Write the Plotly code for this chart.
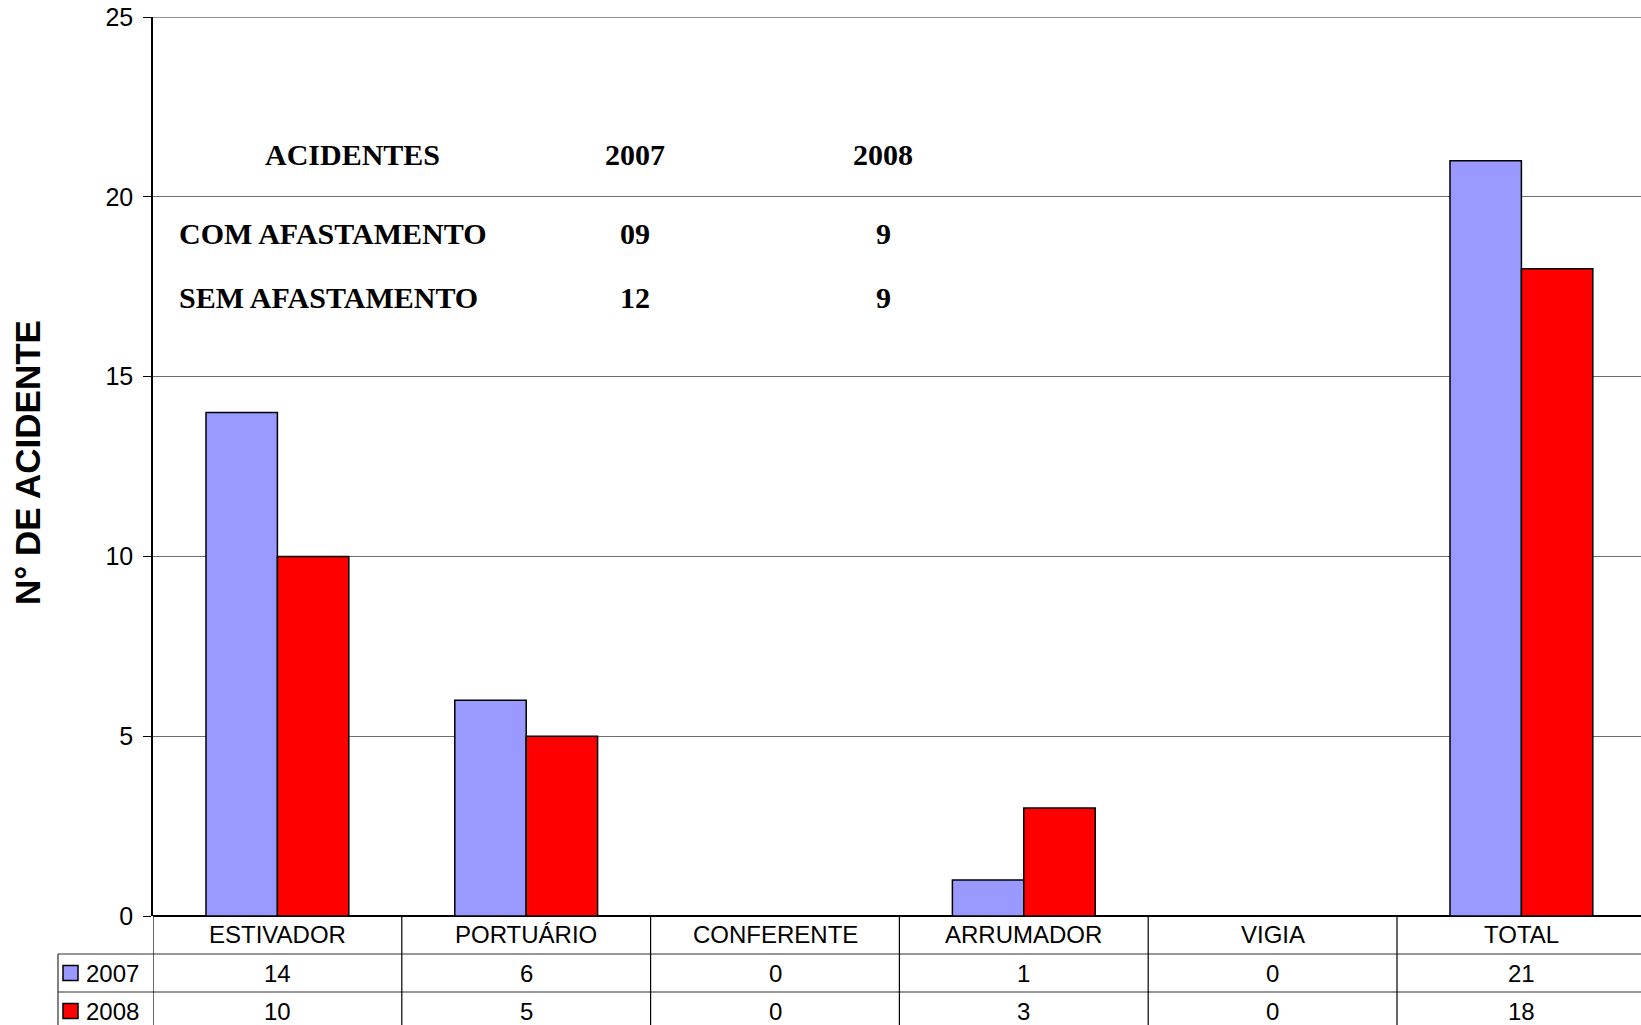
import plotly.graph_objects as go

categories = ["ESTIVADOR", "PORTUÁRIO", "CONFERENTE", "ARRUMADOR", "VIGIA", "TOTAL"]
series_names = ["2007", "2008"]
values_2007 = [14, 6, 0, 1, 0, 21]
values_2008 = [10, 5, 0, 3, 0, 18]
colors = ["#9999FF", "#FF0000"]

y_ticks = [0, 5, 10, 15, 20, 25]
y_title = "N° DE ACIDENTE"

box_header = ["ACIDENTES", "2007", "2008"]
box_rows = ["COM AFASTAMENTO", "SEM AFASTAMENTO"]
box_2007 = ["09", "12"]
box_2008 = ["9", "9"]

W, H = 1641, 1025
L, T = 153, 17
B = H - 916
R = 0
PW, PH = W - L - R, H - T - B
CAT_W = 248.8

def py_(py):
    # screen pixel y -> paper y
    return (H - B - py) / PH

def px_(px):
    # screen pixel x -> paper x
    return (px - L) / PW

fig = go.Figure()
for name, vals, col in zip(series_names, [values_2007, values_2008], colors):
    fig.add_trace(go.Bar(
        x=list(range(len(categories))), y=vals, name=name,
        marker=dict(color=col, line=dict(color="black", width=1.5)),
        showlegend=False,
    ))

xmax = -0.5 + PW / CAT_W

shapes = []
annotations = []
line_col = "#303030"
sans = "Liberation Sans, Arial"

# top gridline (at max of range)
shapes.append(dict(type="line", xref="paper", yref="y", x0=0, x1=1,
                   y0=y_ticks[-1], y1=y_ticks[-1],
                   line=dict(color="#6e6e6e", width=1.5)))

# table horizontal lines
for yl in [py_(954), py_(992)]:
    shapes.append(dict(type="line", xref="paper", yref="paper",
                       x0=px_(58), x1=1.0, y0=yl, y1=yl,
                       line=dict(color=line_col, width=1.2)))
# table vertical lines (category boundaries)
for i in range(len(categories) + 1):
    shapes.append(dict(type="line", xref="x", yref="paper",
                       x0=i - 0.5, x1=i - 0.5, y0=0, y1=py_(1040),
                       line=dict(color="black", width=1.2)))
# legend column left border
shapes.append(dict(type="line", xref="paper", yref="paper",
                   x0=px_(58), x1=px_(58), y0=py_(954), y1=py_(1040),
                   line=dict(color=line_col, width=1.2)))

# category labels
cat_y = py_(935)
for i, c in enumerate(categories):
    annotations.append(dict(x=i, y=cat_y, xref="x", yref="paper", text=c,
                            showarrow=False, xanchor="center", yanchor="middle",
                            font=dict(family=sans, size=24, color="black")))
row_y = [py_(973), py_(1011)]
for ry, name, vals, col in zip(row_y, series_names, [values_2007, values_2008], colors):
    for i, v in enumerate(vals):
        annotations.append(dict(x=i, y=ry, xref="x", yref="paper", text=str(v),
                                showarrow=False, xanchor="center", yanchor="middle",
                                font=dict(family=sans, size=24, color="black")))
    half = 7.5 / PH
    shapes.append(dict(type="rect", xref="paper", yref="paper",
                       x0=px_(63), x1=px_(78), y0=ry - half, y1=ry + half,
                       fillcolor=col, line=dict(color="black", width=1.5)))
    annotations.append(dict(x=px_(84), y=ry, xref="paper", yref="paper",
                            text=name, showarrow=False, xanchor="left", yanchor="middle",
                            font=dict(family=sans, size=24, color="black")))

# text box inside plot
serif = dict(family="Liberation Serif, Times New Roman", size=30, color="black")
hy = py_(154)
annotations.append(dict(x=px_(352), y=hy, xref="paper", yref="paper",
                        text="<b>%s</b>" % box_header[0], showarrow=False,
                        xanchor="center", yanchor="middle", font=serif))
col_x = [px_(635), px_(883)]
for cx, htxt in zip(col_x, box_header[1:]):
    annotations.append(dict(x=cx, y=hy, xref="paper", yref="paper",
                            text="<b>%s</b>" % htxt, showarrow=False,
                            xanchor="center", yanchor="middle", font=serif))
for ry_px, lbl, a, b in zip([233, 297], box_rows, box_2007, box_2008):
    ry = py_(ry_px)
    annotations.append(dict(x=px_(177), y=ry, xref="paper", yref="paper",
                            text="<b>%s</b>" % lbl, showarrow=False,
                            xanchor="left", yanchor="middle", font=serif))
    for cx, t in zip(col_x, [a, b]):
        annotations.append(dict(x=cx, y=ry, xref="paper", yref="paper",
                                text="<b>%s</b>" % t, showarrow=False,
                                xanchor="center", yanchor="middle", font=serif))

# y title
annotations.append(dict(x=px_(27), y=py_(463), xref="paper", yref="paper",
                        text="<b>%s</b>" % y_title, textangle=-90, showarrow=False,
                        xanchor="center", yanchor="middle",
                        font=dict(family=sans, size=35, color="black")))

fig.update_layout(
    width=W, height=H,
    margin=dict(l=L, r=R, t=T, b=B, pad=0, autoexpand=False),
    paper_bgcolor="white", plot_bgcolor="white",
    barmode="group", bargap=0.426, bargroupgap=0,
    shapes=shapes, annotations=annotations,
    xaxis=dict(range=[-0.5, xmax], showticklabels=False, ticks="",
               showgrid=False, zeroline=False, showline=False, fixedrange=True,
               automargin=False),
    yaxis=dict(range=[0, 25], tickvals=y_ticks, ticks="outside", ticklen=8,
               tickcolor="black", tickwidth=1.2,
               showline=True, linecolor="black", linewidth=1.5,
               showgrid=True, gridcolor="#6e6e6e", gridwidth=1,
               zeroline=True, zerolinecolor="black", zerolinewidth=1.5,
               tickfont=dict(family=sans, size=25, color="black"),
               ticklabelstandoff=5, ticklabeloverflow="allow", automargin=False),
    font=dict(family=sans, color="black"),
)

fig.write_html(
    "out.html",
    config={"displayModeBar": False},
    post_script="document.body.style.margin='0';document.body.style.overflow='hidden';"
                "document.documentElement.style.overflow='hidden';",
)
